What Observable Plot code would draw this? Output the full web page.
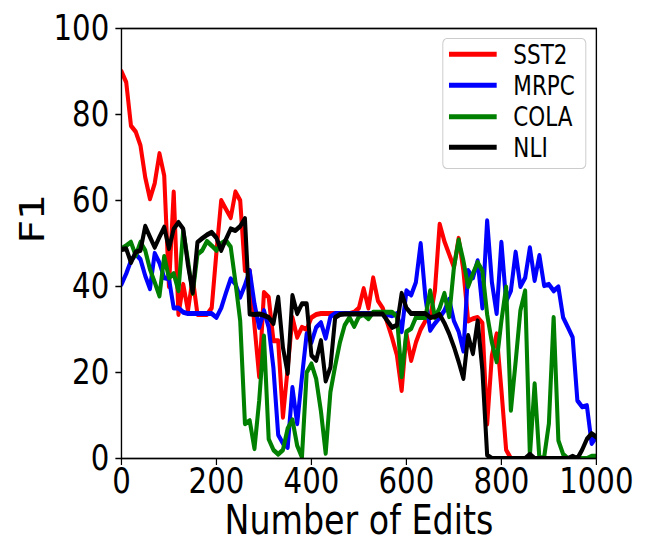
<!DOCTYPE html>
<html><head><meta charset="utf-8">
<script src="https://cdn.jsdelivr.net/npm/d3@7"></script>
<script src="https://cdn.jsdelivr.net/npm/@observablehq/plot@0.6"></script>
<style>body{margin:0;background:white;}</style>
</head><body><div id="chart"></div>
<script>
const edits = [0,10,20,30,40,50,60,70,80,90,100,110,120,130,140,150,160,170,180,190,200,210,220,230,240,250,260,270,280,290,300,310,320,330,340,350,360,370,380,390,400,410,420,430,440,450,460,470,480,490,500,510,520,530,540,550,560,570,580,590,600,610,620,630,640,650,660,670,680,690,700,710,720,730,740,750,760,770,780,790,800,810,820,830,840,850,860,870,880,890,900,910,920,930,940,950,960,970,980,990,1000];
const sst2 = [90,87.5,77.4,76,72.8,65.4,60.4,64,70.9,65.8,
  40,62,33.5,40.5,34.4,42,33.5,33.5,33.5,35,
  48,60,58,56,62,60,43.7,43.7,31,19,
  38.6,37.5,27.4,27.4,9.6,21,32.8,28.2,30.5,30,
  32.8,33.5,33.7,33.7,33.7,33.7,33.7,33.7,33.7,34,
  35,39.5,35,42,36.7,35,31.5,28,24,15.8,
  29,22.8,27,30,32,32.7,39,54.5,50.5,47.5,
  44.5,51.2,43.7,32,32.5,32.8,31.5,8,24,29,
  16,2,0,0,0,0,0,0,0,0,
  0,0,0,0,0,0,0,0,0,0,0];
const mrpc = [40.5,43,46,47.5,46.3,42.5,39.5,47.7,45.5,42,
  41.8,35,35,34,33.7,33.7,33.7,33.7,33.7,33.7,
  32.8,35,38.5,41.8,40.6,37.5,40.3,43.7,36,30.5,
  34.4,30.5,21,5.5,3.5,2.6,16.5,8.1,18.9,29,
  27,30.5,31.6,28,33,33.7,33.7,33.7,33.7,33.7,
  33.7,33.7,33.7,33.7,33.7,33.7,33.5,33.2,33.7,29.5,
  39,38,41,50,37.5,29.8,31.4,32.8,34.4,37,
  32,29.5,25,43.7,42,46,35,55.3,41,33.7,
  50.3,36.5,39,48,40,42,49,41.4,47.2,40.2,
  40.5,39,39.9,32.8,30.5,28.2,13.5,12,12.3,3.5,5];
const cola = [48.8,49.5,50.3,47.2,50.3,48.4,44,41,37.8,47,
  42,43,39,53,46,38.4,47.5,48.4,50.5,49.5,
  48.4,50,50.7,49.2,41,32,8.1,8.8,2.3,13.5,
  28.5,4.5,2,1,2,7,9,3,0.3,20,
  22,18.5,11,1.2,15.5,21.5,27,31,32.8,30.7,
  33,33.5,32.5,34,34,34,34,34,33,19,
  29.5,30.2,32.8,32.8,32.8,39,32.8,35,38.4,33,
  44.4,50.8,46,40,43,45.6,43.7,33.5,27,22.5,
  32,39.9,11.2,22.5,34.4,39,0.7,17.4,0,0.3,
  8.1,32.8,4.2,1,0,0,0,0,0,0.5,0.5];
const nli = [48.6,48.8,45.6,48,48.4,54,51.5,49.1,51.5,53.8,
  48.8,53.4,54.9,53.4,45,38.6,50.3,51.2,52,52.6,
  51.3,48.4,51,53.4,53,54,55.8,33.6,33.5,33.6,
  33.3,32.8,31.4,37.5,25.8,19.8,37.9,33.7,36,36,
  24,22.8,27.4,18,21.2,32.8,33.5,33.6,33.6,33.6,
  33.6,33.6,33.6,33.6,33.6,33.6,32,30.5,31,38.4,
  35,33.7,33.7,33.7,33.7,32.8,33,33.5,31.5,29,
  26,22.5,18.6,28.6,24.4,32,20.5,0.8,0,0,
  0,0,0,0,0,0,1,0,0,0,
  0,0,0,0,0,0.5,0,2,4.5,5.8,5];
const seriesNames = ["SST2","MRPC","COLA","NLI"];
const seriesColors = ["#ff0000","#0000ff","#008000","#000000"];
const xTicks = [0,200,400,600,800,1000];
const yTicks = [0,20,40,60,80,100];
const xLabel = "Number of Edits";
const yLabel = "F1";

const values = [sst2, mrpc, cola, nli];
const rows = seriesNames.flatMap((name, i) => edits.map((e, j) => ({series: name, edits: e, f1: values[i][j]})));

const chart = Plot.plot({
  width: 800, height: 550,
  marginLeft: 149, marginRight: 66.5, marginTop: 28, marginBottom: 92,
  style: {fontFamily: "DejaVu Sans", background: "white", color: "black"},
  x: {domain: [0, 1000]},
  y: {domain: [0, 100]},
  color: {domain: seriesNames, range: seriesColors},
  marks: [
    Plot.lineY(rows, {x: "edits", y: "f1", z: "series", stroke: "series", strokeWidth: 5, strokeLinejoin: "round", clip: true}),
    Plot.frame({stroke: "black", strokeWidth: 1.7}),
    Plot.axisX({ticks: xTicks, tickFormat: d => String(d), tickSize: 7, tickPadding: 2, fontSize: 36, label: null, strokeWidth: 1.5}),
    Plot.axisY({ticks: yTicks, tickFormat: d => String(d), tickSize: 7, tickPadding: 8, fontSize: 36, label: null, strokeWidth: 1.5}),
    Plot.text([xLabel], {text: d => d, frameAnchor: "bottom", dy: 62, fontSize: 41, lineAnchor: "middle"}),
    Plot.text([yLabel], {text: d => d, frameAnchor: "left", dx: -109, rotate: -90, fontSize: 41, lineAnchor: "middle"})
  ]
});

// Legend
const g = d3.select(chart).append("g").attr("font-family", "DejaVu Sans").attr("text-anchor", "start");
g.append("rect").attr("x", 545).attr("y", 38.5).attr("width", 176).attr("height", 130)
  .attr("rx", 5).attr("fill", "white").attr("fill-opacity", 0.8)
  .attr("stroke", "#cccccc").attr("stroke-width", 1.2);
const rowY = [54.3, 85.3, 116.7, 147.3];
seriesNames.forEach((name, i) => {
  g.append("line").attr("x1", 552.6).attr("x2", 611.3).attr("y1", rowY[i]).attr("y2", rowY[i])
    .attr("stroke", seriesColors[i]).attr("stroke-width", 5);
  g.append("text").attr("x", 631.8).attr("y", rowY[i]).attr("dy", "0.35em")
    .attr("text-anchor", "start").attr("font-size", 26.5).attr("fill", "black").text(name);
});

chart.setAttribute("width", 650);
chart.setAttribute("height", 550);
chart.setAttribute("viewBox", "0 0 800 550");
chart.setAttribute("preserveAspectRatio", "none");
chart.style.width = "650px";
chart.style.height = "550px";
chart.style.maxWidth = "none";
document.getElementById("chart").appendChild(chart);
</script>
</body></html>
